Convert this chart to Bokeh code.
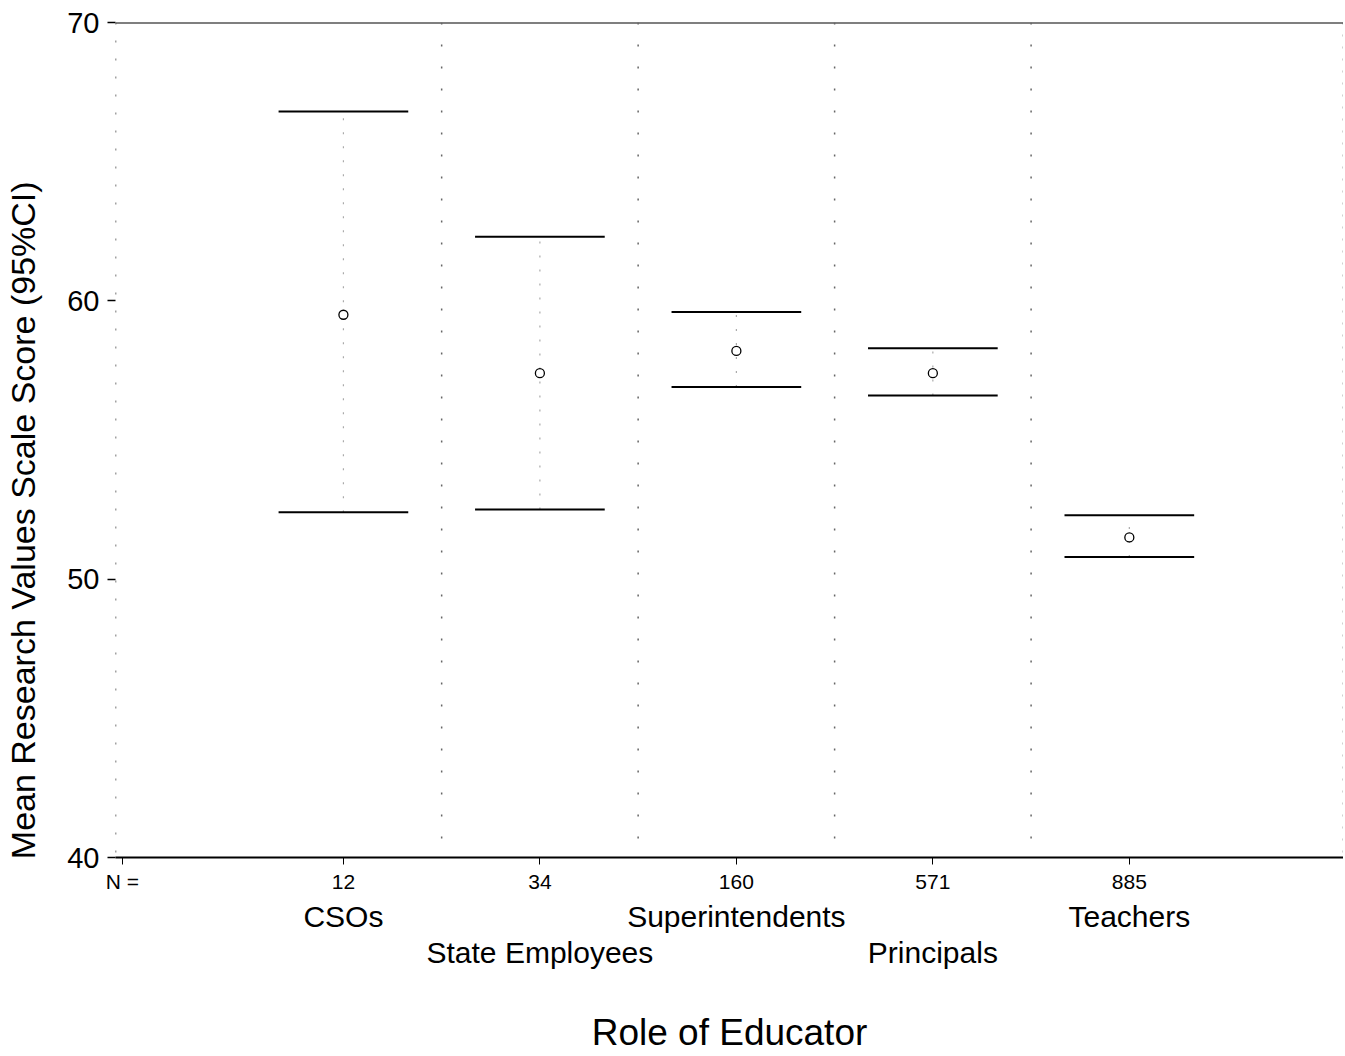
from bokeh.plotting import figure
from bokeh.models import Range1d, LinearAxis, FixedTicker, Span
from bokeh.embed import file_html
from bokeh.resources import INLINE

# ---- data ----
roles = ["CSOs", "State Employees", "Superintendents", "Principals", "Teachers"]
counts = ["12", "34", "160", "571", "885"]
means = [59.5, 57.4, 58.2, 57.4, 51.5]
ci_upper = [66.8, 62.3, 59.6, 58.3, 52.3]
ci_lower = [52.4, 52.5, 56.9, 56.6, 50.8]
y_ticks = [40, 50, 60, 70]

FONT = "Liberation Sans"
xs = [i + 1 for i in range(len(roles))]
half = 0.33
n_pos = -0.125

p = figure(width=1343, height=1055, x_range=Range1d(-0.16, 6.09), y_range=Range1d(40, 70),
           output_backend="svg", toolbar_location=None, x_axis_type=None, y_axis_type=None,
           min_border_left=115, min_border_top=22, min_border_right=0, min_border_bottom=198)
p.outline_line_color = None
p.xgrid.visible = False
p.ygrid.visible = False
p.background_fill_color = "white"

# y axis
ya = LinearAxis(ticker=FixedTicker(ticks=y_ticks),
                axis_label="Mean Research Values Scale Score (95%CI)" + "\u00a0" * 17)
ya.axis_line_color = None
ya.major_tick_out = 8
ya.major_tick_in = 0
ya.major_tick_line_width = 1.5
ya.minor_tick_line_color = None
ya.major_label_text_font = FONT
ya.major_label_text_font_size = "29px"
ya.major_label_text_color = "black"
ya.major_label_standoff = 8
ya.axis_label_text_font = FONT
ya.axis_label_text_font_size = "34px"
ya.axis_label_text_font_style = "normal"
ya.axis_label_text_color = "black"
ya.axis_label_standoff = 22
p.add_layout(ya, "left")

# x axis with N counts
labels_n = {x: c for x, c in zip(xs, counts)}
labels_n[n_pos] = "N ="
xa = LinearAxis(ticker=FixedTicker(ticks=[n_pos] + xs), major_label_overrides=labels_n)
xa.axis_line_width = 2
xa.major_tick_out = 7
xa.major_tick_in = 0
xa.minor_tick_line_color = None
xa.major_label_text_font = FONT
xa.major_label_text_font_size = "21px"
xa.major_label_text_color = "black"
xa.major_label_standoff = 5
p.add_layout(xa, "below")

row1 = [i for i in range(len(roles)) if i % 2 == 0]
row2 = [i for i in range(len(roles)) if i % 2 == 1]

xr1 = LinearAxis(ticker=FixedTicker(ticks=[xs[i] for i in row1]),
                 major_label_overrides={xs[i]: roles[i] for i in row1})
xr2 = LinearAxis(ticker=FixedTicker(ticks=[xs[i] for i in row2]),
                 major_label_overrides={xs[i]: roles[i] for i in row2},
                 axis_label="Role of Educator")
for ax, so in ((xr1, 4), (xr2, 0)):
    ax.axis_line_color = None
    ax.major_tick_line_color = None
    ax.minor_tick_line_color = None
    ax.major_tick_out = 0
    ax.major_tick_in = 0
    ax.major_label_text_font = FONT
    ax.major_label_text_font_size = "30px"
    ax.major_label_text_color = "black"
    ax.major_label_standoff = so
xr2.axis_label_text_font = FONT
xr2.axis_label_text_font_size = "37px"
xr2.axis_label_text_font_style = "normal"
xr2.axis_label_text_color = "black"
xr2.axis_label_standoff = 40
p.add_layout(xr1, "below")
p.add_layout(xr2, "below")

# frame lines
p.add_layout(Span(location=70, dimension="width", line_color="black", line_width=2))
p.add_layout(Span(location=-0.16, dimension="height", line_color="#444", line_width=1.5, line_dash="2 16"))
p.add_layout(Span(location=6.09, dimension="height", line_color="#444", line_width=1.5, line_dash="2 10"))
for k in range(len(roles) - 1):
    p.add_layout(Span(location=xs[k] + 0.5, dimension="height", line_color="#666",
                      line_width=1.5, line_dash="2 20"))

# error bars
p.segment(x0=xs, y0=ci_lower, x1=xs, y1=ci_upper, line_color="#aaa", line_width=1.2, line_dash="2 12")
p.segment(x0=[x - half for x in xs], y0=ci_upper, x1=[x + half for x in xs], y1=ci_upper,
          line_color="black", line_width=2)
p.segment(x0=[x - half for x in xs], y0=ci_lower, x1=[x + half for x in xs], y1=ci_lower,
          line_color="black", line_width=2)
p.scatter(x=xs, y=means, marker="circle", size=9, fill_color="white", line_color="black", line_width=1.3)

open("out.html", "w").write(file_html(p, INLINE))
